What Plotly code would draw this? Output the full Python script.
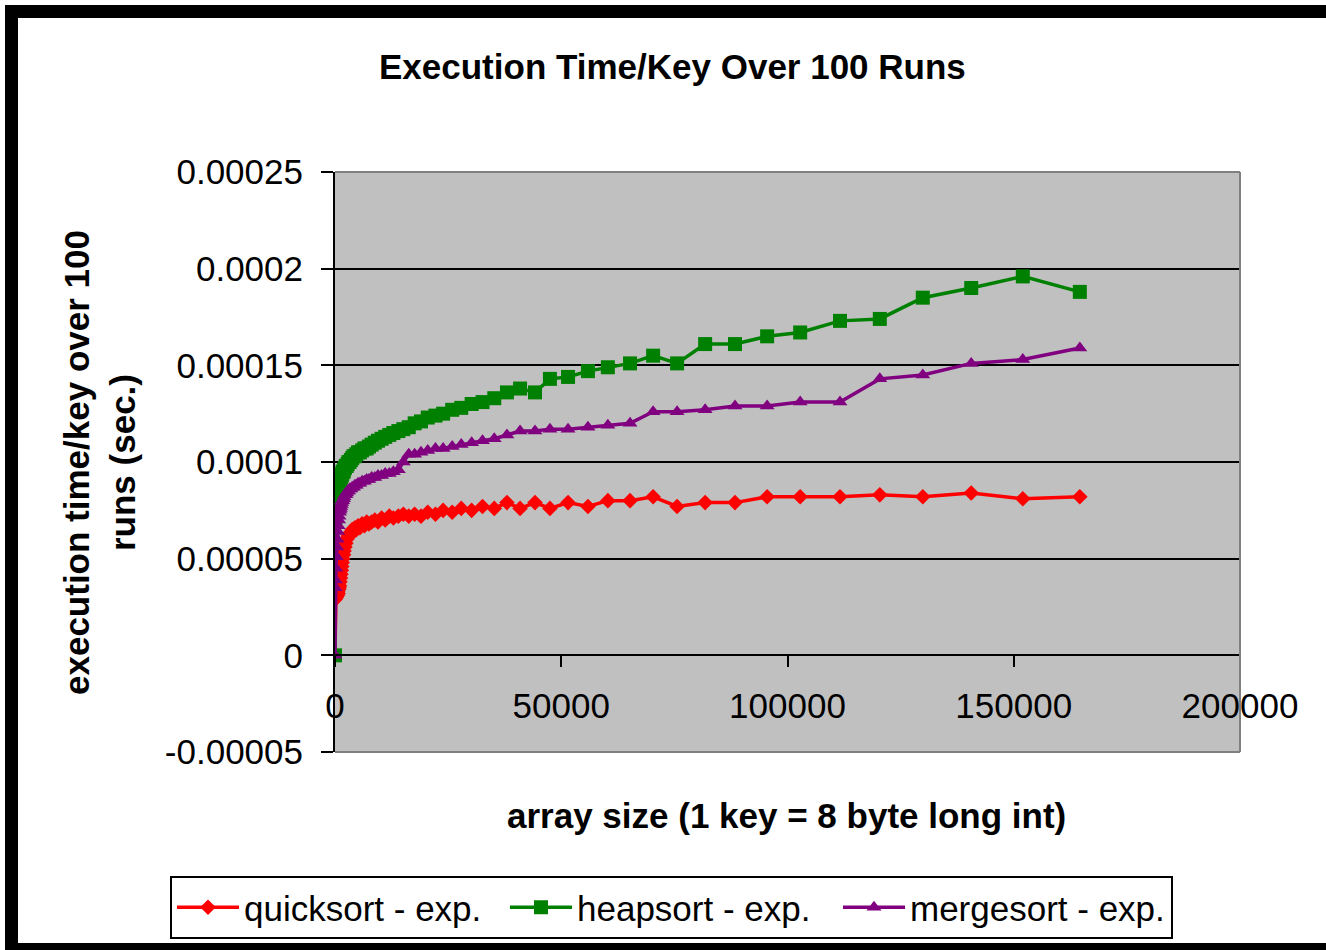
import plotly.graph_objects as go

# Canvas and plot-area geometry (pixels)
W, H = 1326, 950
ML, MR, MT, MB = 335, 86, 172, 198

FONT = "Liberation Sans, Arial, sans-serif"

# Array sizes shared by all three series
array_size = [
    0, 50, 100, 200, 300, 400, 500, 600, 700, 800, 900,
    1000, 1100, 1200, 1300, 1400, 1500, 1600, 1700, 1900, 2000,
    2200, 2400, 2600, 2800, 3000, 3200, 3500, 3800, 4100, 4400,
    4700, 5100, 5500, 6000, 6500, 7000, 7500, 8100, 8800, 9500,
    10300, 11100, 12000, 12900, 14000, 15100, 16300, 17600, 19000, 20500,
    22200, 23900, 25900, 27900, 30200, 32600, 35200, 38000,
    40900, 44200, 47500, 51500, 55900, 60300, 65200, 70300, 75600, 81800,
    88400, 95500, 102800, 111600, 120400, 129900, 140600, 152000, 164600,
]

quicksort = [
    0, 2.9e-5, 3.0e-5, 3.1e-5, 3.0e-5, 3.2e-5, 3.1e-5, 3.3e-5, 3.2e-5, 3.4e-5, 3.5e-5,
    3.6e-5, 3.8e-5, 4.0e-5, 4.2e-5, 4.4e-5, 4.6e-5, 4.8e-5, 5.0e-5, 5.2e-5, 5.4e-5,
    5.6e-5, 5.8e-5, 6.0e-5, 6.1e-5, 6.2e-5, 6.3e-5, 6.3e-5, 6.5e-5, 6.4e-5, 6.6e-5,
    6.5e-5, 6.7e-5, 6.6e-5, 6.8e-5, 6.7e-5, 6.9e-5, 6.8e-5, 6.9e-5, 7.0e-5, 6.9e-5,
    7.1e-5, 7.0e-5, 7.2e-5, 7.1e-5, 7.2e-5, 7.3e-5, 7.2e-5, 7.3e-5, 7.2e-5, 7.4e-5,
    7.3e-5, 7.5e-5, 7.4e-5, 7.6e-5, 7.5e-5, 7.7e-5, 7.6e-5, 7.9e-5,
    7.6e-5, 7.9e-5, 7.6e-5, 7.9e-5, 7.7e-5, 8.0e-5, 8.0e-5, 8.2e-5, 7.7e-5, 7.9e-5,
    7.9e-5, 8.2e-5, 8.2e-5, 8.2e-5, 8.3e-5, 8.2e-5, 8.4e-5, 8.1e-5, 8.2e-5,
]

heapsort = [
    0, 7.0e-5, 7.3e-5, 7.5e-5, 7.7e-5, 7.9e-5, 8.1e-5, 8.3e-5, 8.5e-5, 8.6e-5, 8.8e-5,
    8.9e-5, 9.0e-5, 9.1e-5, 9.2e-5, 9.3e-5, 9.3e-5, 9.4e-5, 9.5e-5, 9.5e-5, 9.6e-5,
    9.7e-5, 9.8e-5, 9.8e-5, 9.9e-5, 1.00e-4, 1.00e-4, 1.01e-4, 1.02e-4, 1.03e-4, 1.03e-4,
    1.04e-4, 1.05e-4, 1.05e-4, 1.06e-4, 1.07e-4, 1.07e-4, 1.08e-4, 1.09e-4, 1.10e-4, 1.11e-4,
    1.12e-4, 1.13e-4, 1.14e-4, 1.15e-4, 1.16e-4, 1.17e-4, 1.18e-4, 1.20e-4, 1.21e-4, 1.23e-4,
    1.24e-4, 1.25e-4, 1.27e-4, 1.28e-4, 1.30e-4, 1.31e-4, 1.33e-4, 1.36e-4,
    1.38e-4, 1.36e-4, 1.43e-4, 1.44e-4, 1.47e-4, 1.49e-4, 1.51e-4, 1.55e-4, 1.51e-4, 1.61e-4,
    1.61e-4, 1.65e-4, 1.67e-4, 1.73e-4, 1.74e-4, 1.85e-4, 1.90e-4, 1.96e-4, 1.88e-4,
]

mergesort = [
    0, 3.5e-5, 3.9e-5, 4.5e-5, 5.1e-5, 5.6e-5, 6.0e-5, 6.4e-5, 6.7e-5, 7.0e-5, 7.2e-5,
    7.4e-5, 7.5e-5, 7.6e-5, 7.7e-5, 7.8e-5, 7.9e-5, 8.0e-5, 8.0e-5, 8.1e-5, 8.2e-5,
    8.3e-5, 8.3e-5, 8.4e-5, 8.5e-5, 8.5e-5, 8.6e-5, 8.6e-5, 8.7e-5, 8.7e-5, 8.8e-5,
    8.8e-5, 8.9e-5, 8.9e-5, 9.0e-5, 9.0e-5, 9.1e-5, 9.1e-5, 9.2e-5, 9.2e-5, 9.3e-5,
    9.3e-5, 9.4e-5, 9.4e-5, 9.5e-5, 9.6e-5, 1.00e-4, 1.04e-4, 1.04e-4, 1.05e-4, 1.06e-4,
    1.07e-4, 1.07e-4, 1.08e-4, 1.09e-4, 1.10e-4, 1.11e-4, 1.12e-4, 1.14e-4,
    1.16e-4, 1.16e-4, 1.17e-4, 1.17e-4, 1.18e-4, 1.19e-4, 1.20e-4, 1.26e-4, 1.26e-4, 1.27e-4,
    1.29e-4, 1.29e-4, 1.31e-4, 1.31e-4, 1.43e-4, 1.45e-4, 1.51e-4, 1.53e-4, 1.59e-4,
]

series_names = ["quicksort - exp.", "heapsort - exp.", "mergesort - exp."]

y_range = [-0.00005, 0.00025]
y_tickvals = [-0.00005, 0, 0.00005, 0.0001, 0.00015, 0.0002, 0.00025]
y_ticktext = ["-0.00005", "0", "0.00005", "0.0001", "0.00015", "0.0002", "0.00025"]

x_range = [0, 200000]
x_tickvals = [0, 50000, 100000, 150000, 200000]
x_ticktext = ["0", "50000", "100000", "150000", "200000"]

title_text = "Execution Time/Key Over 100 Runs"
x_title = "array size (1 key = 8 byte long int)"
y_title = "execution time/key over 100<br>runs (sec.)"

PW = W - ML - MR
PH = H - MT - MB


def px_x(px):
    return (px - ML) / PW


def px_y(py):
    return (H - MB - py) / PH


styles = [
    dict(color="#FF0000", symbol="diamond", size=12),
    dict(color="#008000", symbol="square", size=14),
    dict(color="#800080", symbol="triangle-up", size=13),
]

fig = go.Figure()
for name, ys, st in zip(series_names, [quicksort, heapsort, mergesort], styles):
    fig.add_trace(go.Scatter(
        x=array_size, y=ys, name=name, mode="lines+markers",
        line=dict(color=st["color"], width=3.5),
        marker=dict(color=st["color"], symbol=st["symbol"], size=st["size"],
                    line=dict(width=0)),
    ))

# x axis crosses the y axis at zero
zero_pos = (0 - y_range[0]) / (y_range[1] - y_range[0])

fig.update_layout(
    width=W, height=H,
    margin=dict(l=ML, r=MR, t=MT, b=MB, pad=0, autoexpand=False),
    paper_bgcolor="white",
    plot_bgcolor="#C0C0C0",
    font=dict(family=FONT, size=35, color="black"),
    showlegend=True,
    legend=dict(
        orientation="h",
        x=px_x(170), xanchor="left",
        y=px_y(876), yanchor="top",
        bgcolor="white", bordercolor="black", borderwidth=2,
        font=dict(family=FONT, size=35, color="black"),
        itemwidth=62,
        entrywidth=256,
        tracegroupgap=0,
    ),
    xaxis=dict(
        range=x_range, anchor="free", position=zero_pos,
        tickvals=x_tickvals, ticktext=x_ticktext,
        showgrid=False, zeroline=False,
        showline=True, linecolor="black", linewidth=2,
        ticks="outside", ticklen=11, tickwidth=2, tickcolor="black",
        ticklabelstandoff=9,
        tickfont=dict(family=FONT, size=35, color="black"),
    ),
    yaxis=dict(
        range=y_range,
        tickvals=y_tickvals, ticktext=y_ticktext,
        showgrid=True, gridcolor="black", gridwidth=2,
        zeroline=False,
        showline=True, linecolor="black", linewidth=2,
        ticks="outside", ticklen=12, tickwidth=2, tickcolor="black",
        ticklabelstandoff=11,
        tickfont=dict(family=FONT, size=35, color="black"),
    ),
    annotations=[
        dict(text="<b>" + title_text + "</b>", xref="paper", yref="paper",
             x=px_x(672), y=px_y(67), xanchor="center", yanchor="middle",
             showarrow=False, font=dict(family=FONT, size=35, color="black")),
        dict(text="<b>" + x_title + "</b>", xref="paper", yref="paper",
             x=px_x(786), y=px_y(815), xanchor="center", yanchor="middle",
             showarrow=False, font=dict(family=FONT, size=35, color="black")),
        dict(text="<b>" + y_title + "</b>", xref="paper", yref="paper",
             x=px_x(99), y=px_y(462), xanchor="center", yanchor="middle",
             textangle=-90, showarrow=False,
             font=dict(family=FONT, size=35, color="black")),
    ],
    shapes=[
        # grey border on top, right and bottom of the plot area
        dict(type="line", xref="paper", yref="paper", x0=0, x1=1, y0=1, y1=1,
             line=dict(color="#808080", width=2)),
        dict(type="line", xref="paper", yref="paper", x0=1, x1=1, y0=0, y1=1,
             line=dict(color="#808080", width=2)),
        dict(type="line", xref="paper", yref="paper", x0=0, x1=1, y0=0, y1=0,
             line=dict(color="#808080", width=2)),
        # black outer frame
        dict(type="rect", xref="paper", yref="paper",
             x0=px_x(5), x1=px_x(W + 2), y0=px_y(18), y1=px_y(5),
             fillcolor="black", line=dict(width=0)),
        dict(type="rect", xref="paper", yref="paper",
             x0=px_x(5), x1=px_x(18), y0=px_y(H + 2), y1=px_y(5),
             fillcolor="black", line=dict(width=0)),
        dict(type="rect", xref="paper", yref="paper",
             x0=px_x(5), x1=px_x(W + 2), y0=px_y(H + 2), y1=px_y(943),
             fillcolor="black", line=dict(width=0)),
    ],
)

fig.write_html("out.html")
